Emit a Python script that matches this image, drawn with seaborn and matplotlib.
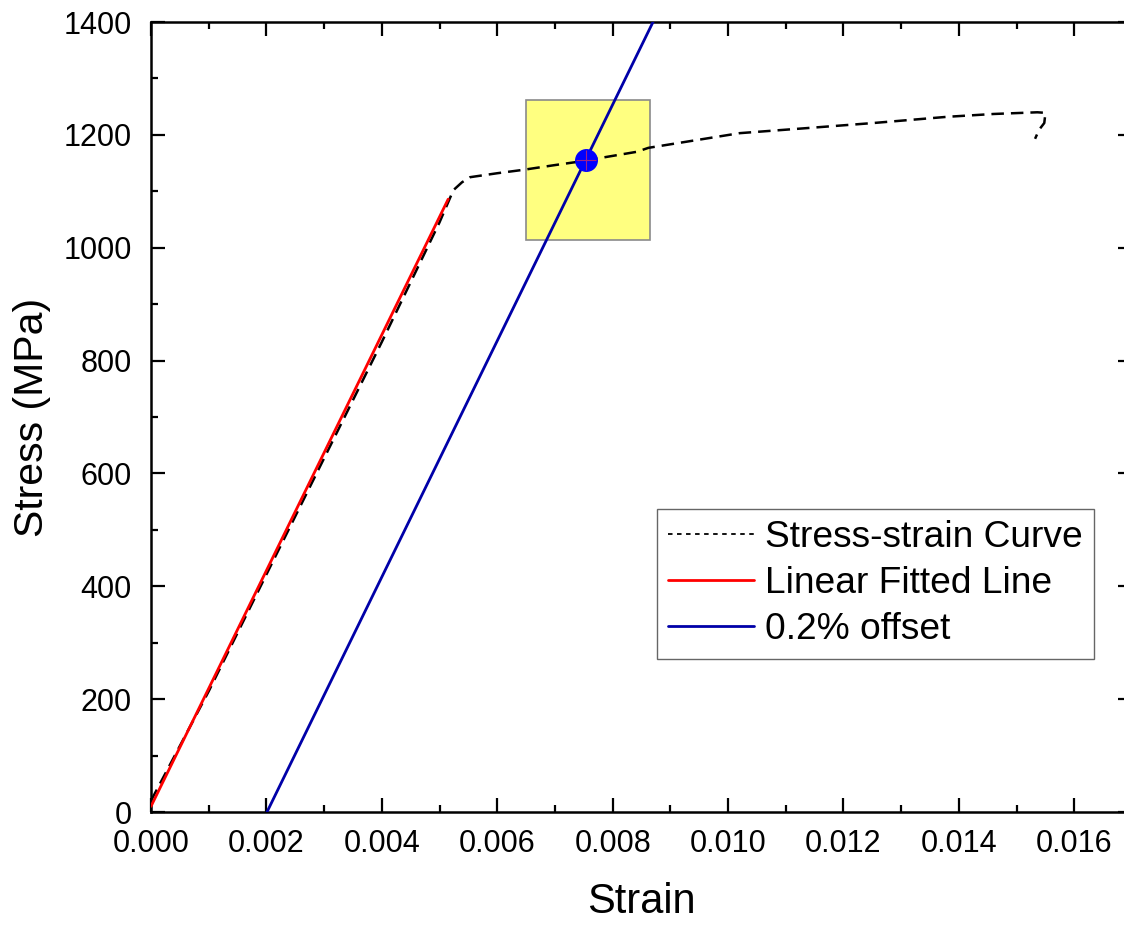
import matplotlib
matplotlib.use("Agg")
import matplotlib.pyplot as plt
import seaborn as sns
import pandas as pd
from matplotlib.patches import Rectangle
from matplotlib.ticker import MultipleLocator

# ---- data ----
curve_strain = [0.0, 0.001, 0.002, 0.003, 0.004, 0.005, 0.00524, 0.00539, 0.00553,
                0.0060, 0.00645, 0.00697, 0.00738, 0.0079, 0.00842, 0.00862, 0.0102,
                0.01137, 0.01252, 0.0138, 0.0146, 0.01536, 0.0155, 0.01548, 0.01539, 0.01532]
curve_stress = [20, 214, 421, 627, 833, 1045, 1102, 1116, 1125,
                1132, 1138, 1146, 1152, 1161, 1170, 1177, 1203,
                1212, 1221, 1232, 1237, 1240, 1239, 1221, 1209, 1193]

fit_strain = [0.0, 0.00515]
fit_stress = [10, 1086]

offset_strain = [0.00201, 0.0088]
offset_stress = [0, 1421]

yield_strain = [0.00754]
yield_stress = [1156]

box_strain = [0.0065, 0.00865]
box_stress = [1013, 1262]

labels = ["Stress-strain Curve", "Linear Fitted Line", "0.2% offset"]

sns.set_style("ticks")
plt.rcParams['font.family'] = ['Liberation Sans', 'DejaVu Sans']
plt.rcParams['text.color'] = 'black'
plt.rcParams['axes.labelcolor'] = 'black'
plt.rcParams['xtick.color'] = 'black'
plt.rcParams['ytick.color'] = 'black'

fig = plt.figure(figsize=(11.24, 9.26), dpi=100)
ax = fig.add_axes([151/1124, 114/926, 981/1124, 790/926])

df_curve = pd.DataFrame({"strain": curve_strain, "stress": curve_stress})
df_fit = pd.DataFrame({"strain": fit_strain, "stress": fit_stress})
df_off = pd.DataFrame({"strain": offset_strain, "stress": offset_stress})

# yellow highlight box
ax.add_patch(Rectangle((box_strain[0], box_stress[0]), box_strain[1] - box_strain[0],
                       box_stress[1] - box_stress[0], facecolor="#FFFF80",
                       edgecolor="#8a8a8a", linewidth=1.2, zorder=1))

sns.lineplot(data=df_curve, x="strain", y="stress", sort=False, estimator=None,
             color="black", linewidth=1.8, dashes=False, ax=ax, zorder=3,
             label=labels[0])
ax.lines[-1].set_dashes((5, 2.8))
sns.lineplot(data=df_fit, x="strain", y="stress", sort=False, estimator=None,
             color="#FF0000", linewidth=2, ax=ax, zorder=4, label=labels[1])
sns.lineplot(data=df_off, x="strain", y="stress", sort=False, estimator=None,
             color="#0000A8", linewidth=2, ax=ax, zorder=4, label=labels[2])
ax.plot(yield_strain, yield_stress, 'o', color="#0000FF", markersize=15.5, zorder=5)
ax.plot(yield_strain, yield_stress, '+', color="#A0208A", markersize=14,
        markeredgewidth=0.8, zorder=6)

ax.set_xlim(0, 0.017)
ax.set_ylim(0, 1400)
ax.xaxis.set_major_locator(MultipleLocator(0.002))
ax.xaxis.set_minor_locator(MultipleLocator(0.001))
ax.yaxis.set_major_locator(MultipleLocator(200))
ax.yaxis.set_minor_locator(MultipleLocator(100))
ax.set_xticks([0.0, 0.002, 0.004, 0.006, 0.008, 0.010, 0.012, 0.014, 0.016])
ax.set_xticklabels(["0.000", "0.002", "0.004", "0.006", "0.008", "0.010",
                    "0.012", "0.014", "0.016"])

for s in ax.spines.values():
    s.set_visible(True)
    s.set_linewidth(1.8)
    s.set_color("black")

ax.tick_params(which='both', direction='in', top=True, right=True, colors='black')
ax.tick_params(which='major', length=10, width=1.6)
ax.tick_params(which='minor', length=5, width=1.6)
ax.tick_params(axis='x', which='major', labelsize=22, pad=12)
ax.tick_params(axis='y', which='major', labelsize=22, pad=14)

ax.set_xlabel("Strain", fontsize=30, labelpad=17)
ax.set_ylabel("Stress (MPa)", fontsize=29.5, labelpad=9)

leg = ax.legend(loc="upper left", bbox_to_anchor=(0.516, 0.3835), borderaxespad=0,
                fontsize=26.7, handlelength=2.3, handletextpad=0.3, borderpad=0.3,
                labelspacing=0.3, fancybox=False, framealpha=1, edgecolor="#666666")
leg.get_frame().set_linewidth(1.0)
leg.get_lines()[0].set_dashes((2.5, 2.5))
leg.get_lines()[0].set_linewidth(1.3)

fig.savefig("out.png", dpi=100)
